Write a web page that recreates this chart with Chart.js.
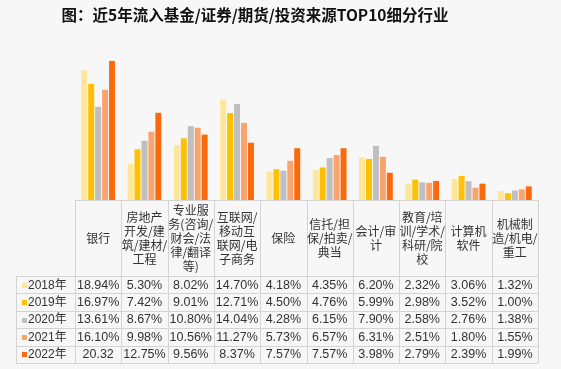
<!DOCTYPE html>
<html>
<head>
<meta charset="utf-8">
<script src="https://cdn.jsdelivr.net/npm/chart.js@4.4.1/dist/chart.umd.min.js"></script>
<style>
  html, body { margin: 0; padding: 0; background: #F7F7F7; }
  #wrap { width: 561px; height: 369px; }
</style>
</head>
<body>
<div id="wrap"><canvas id="chart" width="561" height="369"></canvas></div>
<script>
// Data
const title = "图：近5年流入基金/证券/期货/投资来源TOP10细分行业";
const categories = [
    ["银行"],
    ["房地产", "开发/建", "筑/建材/", "工程"],
    ["专业服", "务(咨询/", "财会/法", "律/翻译", "等)"],
    ["互联网/", "移动互", "联网/电", "子商务"],
    ["保险"],
    ["信托/担", "保/拍卖/", "典当"],
    ["会计/审", "计"],
    ["教育/培", "训/学术/", "科研/院", "校"],
    ["计算机", "软件"],
    ["机械制", "造/机电/", "重工"]
];
const seriesNames = ["2018年", "2019年", "2020年", "2021年", "2022年"];
const y2018 = [18.94, 5.30, 8.02, 14.70, 4.18, 4.35, 6.20, 2.32, 3.06, 1.32];
const y2019 = [16.97, 7.42, 9.01, 12.71, 4.50, 4.76, 5.99, 2.98, 3.52, 1.00];
const y2020 = [13.61, 8.67, 10.80, 14.04, 4.28, 6.15, 7.90, 2.58, 2.76, 1.38];
const y2021 = [16.10, 9.98, 10.56, 11.27, 5.73, 6.57, 6.31, 2.51, 1.80, 1.55];
const y2022 = [20.32, 12.75, 9.56, 8.37, 7.57, 7.57, 3.98, 2.79, 2.39, 1.99];
const seriesColors = ["#FFE699", "#FFC000", "#BFBFBF", "#F9A46C", "#FA6A0C"];
// the source table shows this one cell without a percent sign
const cellTextOverride = { "4-0": "20.32" };

const seriesValues = [y2018, y2019, y2020, y2021, y2022];

// Data table drawn under the plot, aligned with the x scale
const dataTable = {
    id: "dataTable",
    afterDraw(chart) {
        const ctx = chart.ctx;
        const xs = chart.scales.x;
        const area = chart.chartArea;
        const n = categories.length;
        const colW = (area.right - area.left) / n;
        const top = area.bottom;
        const headerBottom = 276;
        const rowH = 17.4;
        const legendLeft = 16;
        const bottom = headerBottom + rowH * seriesNames.length;

        ctx.save();
        // title
        ctx.fillStyle = "#111";
        ctx.font = "bold 15.5px 'Noto Sans CJK SC'";
        ctx.textAlign = "center";
        ctx.textBaseline = "middle";
        ctx.fillText(title, 255, 15);

        // grid
        ctx.strokeStyle = "#D4D4D4";
        ctx.lineWidth = 1;
        ctx.beginPath();
        ctx.moveTo(area.left, top + 0.5);
        ctx.lineTo(area.right, top + 0.5);
        for (let r = 0; r <= seriesNames.length; r++) {
            const y = Math.round(headerBottom + r * rowH) + 0.5;
            ctx.moveTo(legendLeft, y);
            ctx.lineTo(area.right, y);
        }
        for (let i = 0; i <= n; i++) {
            const x = Math.round(xs.getPixelForValue(i) - colW / 2) + 0.5;
            ctx.moveTo(x, top);
            ctx.lineTo(x, bottom);
        }
        ctx.moveTo(legendLeft + 0.5, headerBottom);
        ctx.lineTo(legendLeft + 0.5, bottom);
        ctx.stroke();

        // header: category names
        ctx.fillStyle = "#333";
        ctx.font = "12px 'Noto Sans CJK SC'";
        const lineH = 14;
        categories.forEach((lines, i) => {
            const cx = xs.getPixelForValue(i);
            const cy = (top + headerBottom) / 2;
            const start = cy - (lines.length - 1) * lineH / 2;
            lines.forEach((t, k) => ctx.fillText(t, cx, start + k * lineH));
        });

        // rows
        seriesNames.forEach((name, r) => {
            const cy = headerBottom + r * rowH + rowH / 2 + 0.5;
            ctx.fillStyle = seriesColors[r];
            ctx.fillRect(22, Math.round(cy - 2.5), 5, 5);
            ctx.fillStyle = "#333";
            ctx.textAlign = "left";
            ctx.font = "12px 'Liberation Sans', 'Noto Sans CJK SC'";
            ctx.fillText(name, 28, cy);
            ctx.textAlign = "center";
            ctx.font = "12.5px 'Liberation Sans'";
            seriesValues[r].forEach((v, i) => {
                const txt = cellTextOverride[r + "-" + i] || v.toFixed(2) + "%";
                ctx.fillText(txt, xs.getPixelForValue(i), cy);
            });
        });
        ctx.restore();
    }
};

new Chart(document.getElementById("chart"), {
    type: "bar",
    data: {
        labels: categories.map(c => c.join("")),
        datasets: seriesNames.map((name, i) => ({
            label: name,
            data: seriesValues[i],
            backgroundColor: seriesColors[i],
            borderWidth: 0,
            categoryPercentage: 0.75,
            barPercentage: 0.86
        }))
    },
    options: {
        responsive: false,
        animation: false,
        layout: { padding: { left: 75, right: 23, top: 29, bottom: 169 } },
        scales: {
            x: { display: false },
            y: { display: false, min: 0, max: 25 }
        },
        plugins: {
            legend: { display: false },
            title: { display: false },
            tooltip: { enabled: false }
        }
    },
    plugins: [dataTable]
});
</script>
</body>
</html>
